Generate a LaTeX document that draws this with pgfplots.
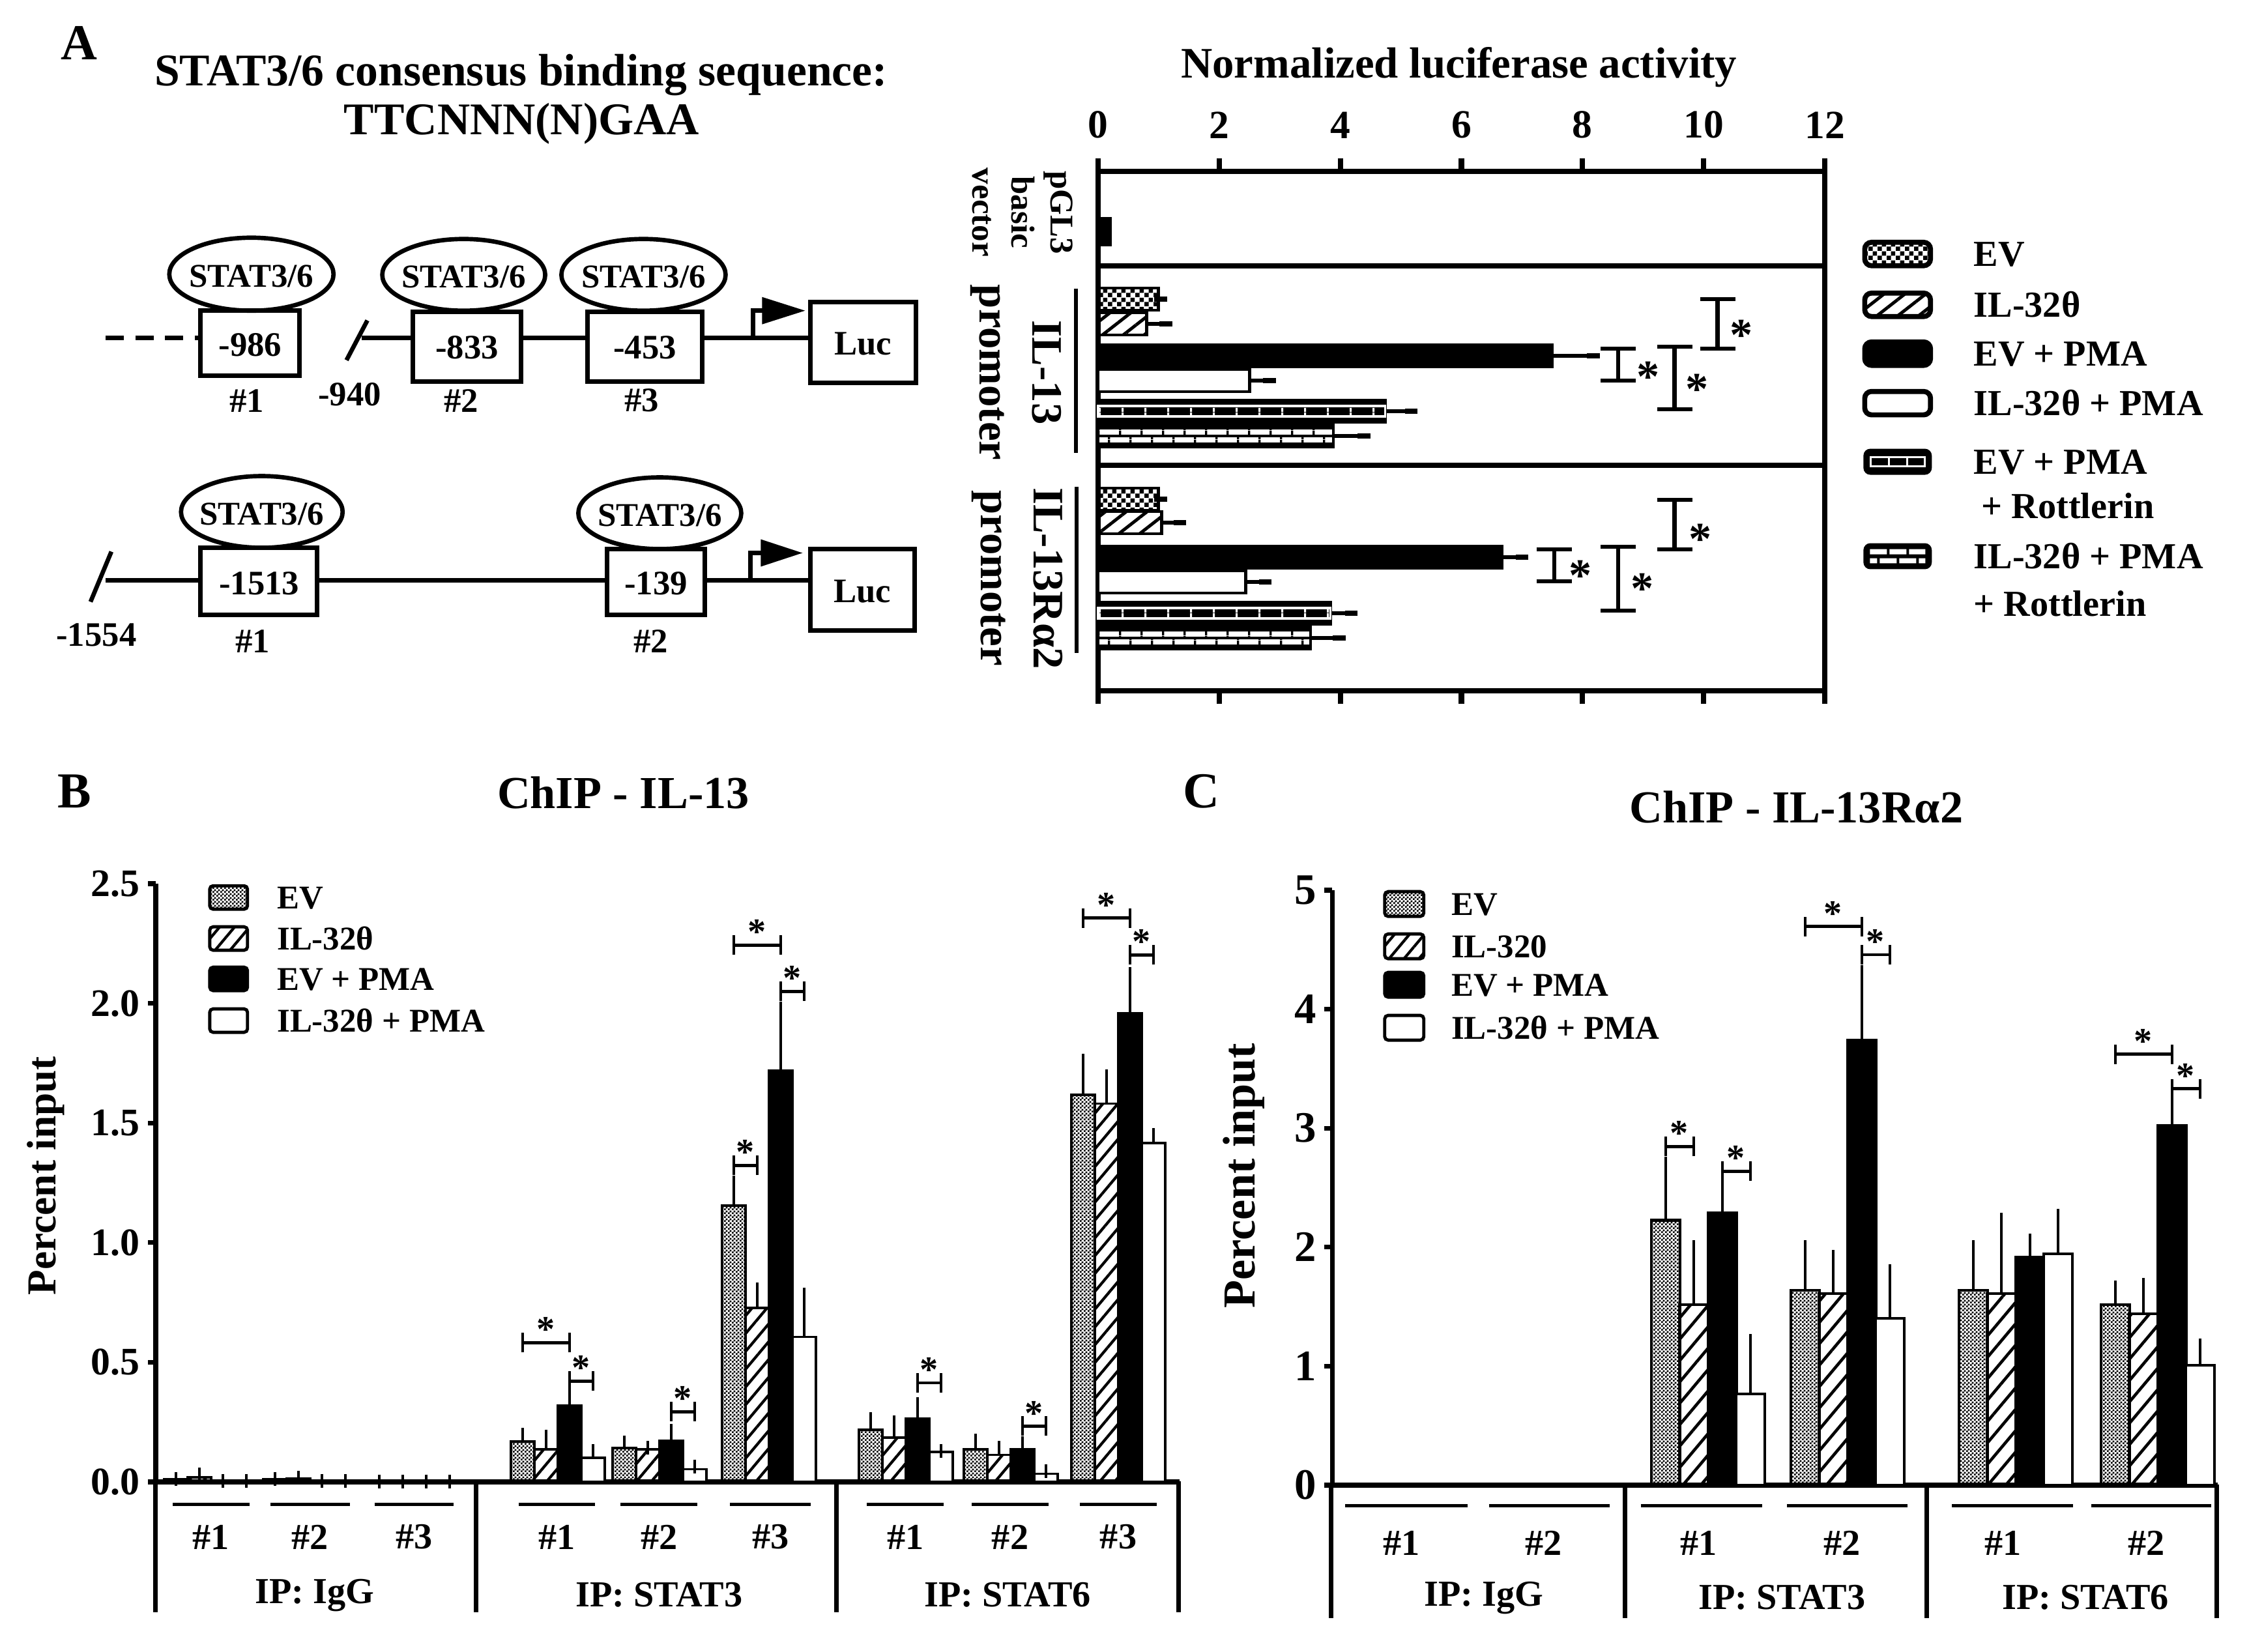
\documentclass[border=0pt]{standalone}
\usepackage{fontspec}
\setmainfont{Liberation Serif}
\usepackage{pgfplots}
\pgfplotsset{compat=1.18}
\usetikzlibrary{patterns,patterns.meta}

\newcommand{\fs}[1]{\fontsize{#1}{#1}\selectfont\bfseries}

\pgfdeclarepatternformonly{checkA}{\pgfpointorigin}{\pgfqpoint{4pt}{4pt}}{\pgfqpoint{4pt}{4pt}}{%
  \pgfpathrectangle{\pgfpointorigin}{\pgfqpoint{2pt}{2pt}}%
  \pgfpathrectangle{\pgfqpoint{2pt}{2pt}}{\pgfqpoint{2pt}{2pt}}%
  \pgfusepath{fill}}
\pgfdeclarepatternformonly{checkB}{\pgfpointorigin}{\pgfqpoint{1.6pt}{1.6pt}}{\pgfqpoint{1.6pt}{1.6pt}}{%
  \pgfpathrectangle{\pgfpointorigin}{\pgfqpoint{0.8pt}{0.8pt}}%
  \pgfpathrectangle{\pgfqpoint{0.8pt}{0.8pt}}{\pgfqpoint{0.8pt}{0.8pt}}%
  \pgfusepath{fill}}
\pgfdeclarepatternformonly{vlA}{\pgfpointorigin}{\pgfqpoint{9.4pt}{2pt}}{\pgfqpoint{9.4pt}{2pt}}{%
  \pgfpathrectangle{\pgfpointorigin}{\pgfqpoint{1pt}{2pt}}\pgfusepath{fill}}
\pgfdeclarepatternformonly{vlB}{\pgfpointorigin}{\pgfqpoint{9.4pt}{2pt}}{\pgfqpoint{9.4pt}{2pt}}{%
  \pgfpathrectangle{\pgfqpoint{4.7pt}{0pt}}{\pgfqpoint{1pt}{2pt}}\pgfusepath{fill}}
\pgfdeclarepatternformonly{vlW}{\pgfpointorigin}{\pgfqpoint{10pt}{2pt}}{\pgfqpoint{10pt}{2pt}}{%
  \pgfpathrectangle{\pgfpointorigin}{\pgfqpoint{0.9pt}{2pt}}\pgfusepath{fill}}

\pgfplotsset{
  barA/.style={xbar, bar shift=0pt, bar width=34, draw=black, line width=1.4pt,
    error bars/x dir=plus, error bars/x explicit,
    error bars/error bar style={line width=1.8pt, black},
    error bars/error mark options={line width=2.4pt, mark size=2.8pt, black}},
  barB/.style={ybar, bar shift=0pt, bar width=36, draw=black, line width=1.1pt,
    error bars/y dir=plus, error bars/y explicit,
    error bars/error bar style={line width=1.3pt, black},
    error bars/error mark options={line width=1.3pt, mark size=3pt, black}},
  barC/.style={ybar, bar shift=0pt, bar width=43.5, draw=black, line width=1.2pt,
    error bars/y dir=plus, error bars/y explicit,
    error bars/error bar style={line width=1.4pt, black},
    error bars/error mark options={line width=1.4pt, mark size=4.3pt, black}},
}

% horizontal significance bracket: x1, x2, y, star-x
\newcommand{\hbr}[4]{%
  \draw[line width=1.4pt] (axis cs:#1,#3) -- (axis cs:#2,#3);
  \draw[line width=1.4pt] ([yshift=-0.15cm]axis cs:#1,#3) -- ([yshift=0.15cm]axis cs:#1,#3);
  \draw[line width=1.4pt] ([yshift=-0.15cm]axis cs:#2,#3) -- ([yshift=0.15cm]axis cs:#2,#3);
  \node[font=\fs{16}] at ([yshift=0.2cm]axis cs:#4,#3) {*};
}
% vertical significance bracket: x, y1, y2, star-x, star-y
\newcommand{\vbr}[5]{%
  \draw[line width=1.8pt] (axis cs:#1,#2) -- (axis cs:#1,#3);
  \draw[line width=1.8pt] ([xshift=-0.27cm]axis cs:#1,#2) -- ([xshift=0.27cm]axis cs:#1,#2);
  \draw[line width=1.8pt] ([xshift=-0.27cm]axis cs:#1,#3) -- ([xshift=0.27cm]axis cs:#1,#3);
  \node[font=\fs{20}] at ([yshift=-0.14cm]axis cs:#4,#5) {*};
}

\begin{document}
\begin{tikzpicture}
\path[use as bounding box] (0,0) rectangle (34.51cm,-25.35cm);

% ================= Panel A (bar chart) =================
\begin{axis}[
  at={(16.85cm,-2.63cm)}, anchor=north west, scale only axis,
  width=11.15cm, height=7.97cm,
  xmin=0, xmax=12, ymin=263, ymax=1060, y dir=reverse,
  xtick={0,2,...,12}, ytick=\empty,
  xticklabel pos=upper, tick align=outside,
  major tick length=0.2cm,
  tick style={line width=2.3pt, black},
  axis line style={line width=2.3pt},
  tick label style={font=\fs{17.5}},
  x tick label style={yshift=0.18cm},
  /pgf/number format/assume math mode=true,
  clip=false,
]
% pGL3 basic vector
\addplot[xbar, bar shift=0pt, bar width=6, fill=black, draw=black, line width=1.2pt]
  coordinates {(0.2,338) (0.2,345) (0.2,352) (0.2,359) (0.2,366) (0.2,373)};
% EV
\addplot[barA, pattern=checkA] coordinates {(1.0,459) +- (0.03,0) (1.0,766) +- (0.03,0)};
% IL-32theta
\addplot[barA, pattern={Lines[angle=38,distance=5.6pt,line width=1.4pt]}]
  coordinates {(0.8,497) +- (0.32,0) (1.05,802) +- (0.30,0)};
% EV + PMA
\addplot[barA, fill=black] coordinates {(7.5,546) +- (0.68,0) (6.67,855) +- (0.33,0)};
% IL-32theta + PMA
\addplot[barA, fill=white] coordinates {(2.5,584) +- (0.33,0) (2.44,893) +- (0.32,0)};
% EV + PMA + Rottlerin
\addplot[barA, fill=black] coordinates {(4.74,631) +- (0.43,0) (3.84,941) +- (0.34,0)};
\addplot[xbar, bar shift=0pt, bar width=16, fill=black, draw=white, line width=0.9pt,
  postaction={pattern=vlW, pattern color=white}]
  coordinates {(4.74,631) (3.84,941)};
% IL-32theta + PMA + Rottlerin
\addplot[barA, fill=black] coordinates {(3.88,669) +- (0.51,0) (3.5,979) +- (0.48,0)};
\addplot[xbar, bar shift=0pt, bar width=11, fill=white, draw=black, line width=0.9pt,
  postaction={pattern=vlA}] coordinates {(3.88,663) (3.5,973)};
\addplot[xbar, bar shift=0pt, bar width=11, fill=white, draw=black, line width=0.9pt,
  postaction={pattern=vlB}] coordinates {(3.88,675) (3.5,985)};

\draw[line width=2.3pt] (axis cs:0,408) -- (axis cs:12,408);
\draw[line width=2.3pt] (axis cs:0,714) -- (axis cs:12,714);

\vbr{10.23}{459}{535}{10.62}{500}
\vbr{8.59}{535}{584}{9.08}{564}
\vbr{9.52}{532}{628}{9.89}{583}
\vbr{9.52}{767}{843}{9.94}{813}
\vbr{7.53}{843}{892}{7.96}{869}
\vbr{8.59}{839}{937}{8.99}{889}
\end{axis}

% ================= Panel B =================
\begin{axis}[
  at={(2.39cm,-13.56cm)}, anchor=north west, scale only axis,
  width=15.71cm, height=9.18cm,
  xmin=239, xmax=1810, ymin=0, ymax=2.5,
  axis lines=left, axis line style={-, line width=2pt},
  xtick=\empty, ytick={0,0.5,1,1.5,2,2.5},
  tick align=outside, major tick length=0.12cm,
  tick style={line width=2pt, black},
  y tick label style={font=\fs{17}, /pgf/number format/.cd, fixed, fixed zerofill, precision=1},
  /pgf/number format/assume math mode=true,
  clip=false,
]
\addplot[barB, pattern=checkB] coordinates {
  (270,0.010) +- (0,0.003) (422,0.010) +- (0,0.003) (582,0.002) +- (0,0)
  (802,0.168) +- (0,0.029) (958,0.142) +- (0,0.024) (1126,1.155) +- (0,0.096)
  (1336,0.217) +- (0,0.045) (1497,0.137) +- (0,0.036) (1662,1.617) +- (0,0.144)};
\addplot[barB, pattern={Lines[angle=50,distance=5pt,line width=1.2pt]}] coordinates {
  (306,0.020) +- (0,0.010) (458,0.015) +- (0,0.003) (618,0.002) +- (0,0)
  (838,0.137) +- (0,0.053) (994,0.137) +- (0,0.005) (1162,0.727) +- (0,0.077)
  (1372,0.185) +- (0,0.065) (1533,0.113) +- (0,0.029) (1698,1.581) +- (0,0.115)};
\addplot[barB, fill=black] coordinates {
  (342,0.005) +- (0,0) (494,0.005) +- (0,0) (654,0.002) +- (0,0)
  (874,0.318) +- (0,0.036) (1030,0.173) +- (0,0.041) (1198,1.718) +- (0,0.260)
  (1408,0.265) +- (0,0.060) (1569,0.137) +- (0,0.024) (1734,1.959) +- (0,0.163)};
\addplot[barB, fill=white] coordinates {
  (378,0.005) +- (0,0) (530,0.003) +- (0,0) (690,0.002) +- (0,0)
  (910,0.100) +- (0,0.030) (1066,0.053) +- (0,0.012) (1234,0.606) +- (0,0.178)
  (1444,0.125) +- (0,0.005) (1605,0.034) +- (0,0.012) (1770,1.417) +- (0,0.032)};

\hbr{802}{874}{0.582}{838}
\hbr{874}{910}{0.421}{892}
\hbr{1030}{1066}{0.294}{1048}
\hbr{1126}{1162}{1.323}{1144}
\hbr{1126}{1198}{2.243}{1162}
\hbr{1198}{1234}{2.050}{1216}
\hbr{1408}{1444}{0.414}{1426}
\hbr{1569}{1605}{0.233}{1587}
\hbr{1662}{1734}{2.356}{1698}
\hbr{1734}{1770}{2.202}{1752}
\end{axis}

% ================= Panel C =================
\begin{axis}[
  at={(20.44cm,-13.66cm)}, anchor=north west, scale only axis,
  width=13.59cm, height=9.13cm,
  xmin=2044, xmax=3403, ymin=0, ymax=5,
  axis lines=left, axis line style={-, line width=2pt},
  xtick=\empty, ytick={0,1,2,3,4,5},
  tick align=outside, major tick length=0.12cm,
  tick style={line width=2pt, black},
  y tick label style={font=\fs{19}},
  /pgf/number format/assume math mode=true,
  clip=false,
]
\addplot[barC, pattern=checkB] coordinates {
  (2094,0) (2313,0)
  (2556,2.226) +- (0,0.451) (2770,1.636) +- (0,0.339)
  (3028,1.636) +- (0,0.339) (3246,1.515) +- (0,0.121)};
\addplot[barC, pattern={Lines[angle=50,distance=6pt,line width=1.3pt]}] coordinates {
  (2137,0) (2356,0)
  (2599,1.515) +- (0,0.460) (2813,1.612) +- (0,0.281)
  (3071,1.612) +- (0,0.595) (3289,1.442) +- (0,0.218)};
\addplot[barC, fill=black] coordinates {
  (2181,0) (2400,0)
  (2643,2.290) +- (0,0.207) (2857,3.742) +- (0,0.546)
  (3115,1.917) +- (0,0.116) (3333,3.025) +- (0,0.150)};
\addplot[barC, fill=white] coordinates {
  (2224,0) (2443,0)
  (2686,0.765) +- (0,0.421) (2900,1.404) +- (0,0.368)
  (3158,1.946) +- (0,0.295) (3376,1.007) +- (0,0.145)};

\hbr{2556}{2599}{2.846}{2577}
\hbr{2643}{2686}{2.638}{2664}
\hbr{2770}{2857}{4.695}{2813}
\hbr{2857}{2900}{4.458}{2878}
\hbr{3246}{3333}{3.621}{3289}
\hbr{3333}{3376}{3.330}{3354}
\end{axis}

% ================= drawings in pixel coordinates =================
\begin{scope}[x=0.01cm, y=-0.01cm]
% ---- Panel A schematic
\node[font=\fs{22}] at (121,66) {A};
\node[font=\fs{19.8}] at (800,115) {STAT3/6 consensus binding sequence:};
\node[font=\fs{19.8}] at (801,190) {TTCNNN(N)GAA};
\begin{scope}[line width=1.9pt]
\draw[dash pattern=on 8pt off 5pt] (162,519) -- (308,519);
\draw (308,477) rectangle (460,577);
\draw (532,553) -- (564,492);
\draw (555,519) -- (634,519);
\draw (634,479) rectangle (800,586);
\draw (800,519) -- (902,519);
\draw (902,479) rectangle (1078,586);
\draw (1078,519) -- (1244,519);
\draw (1156,519) -- (1156,477) -- (1175,477);
\fill (1170,456) -- (1236,477) -- (1170,498) -- cycle;
\draw (1244,464) rectangle (1406,588);
\draw (386,421) ellipse [x radius=1.26cm, y radius=0.56cm];
\draw (712,422) ellipse [x radius=1.25cm, y radius=0.55cm];
\draw (988,422) ellipse [x radius=1.26cm, y radius=0.55cm];
% row 2
\draw (139,924) -- (171,847);
\draw (162,891) -- (308,891);
\draw (308,841) rectangle (487,944);
\draw (487,891) -- (932,891);
\draw (932,843) rectangle (1082,944);
\draw (1082,891) -- (1244,891);
\draw (1152,891) -- (1152,849) -- (1175,849);
\fill (1168,828) -- (1232,849) -- (1168,870) -- cycle;
\draw (1244,843) rectangle (1404,968);
\draw (402,786) ellipse [x radius=1.24cm, y radius=0.55cm];
\draw (1013,788) ellipse [x radius=1.25cm, y radius=0.55cm];
\end{scope}
\foreach \x/\y in {386/424, 712/425, 988/425, 402/789, 1013/791}
  \node[font=\fs{14.5}] at (\x,\y) {STAT3/6};
\node[font=\fs{15}] at (384,530) {-986};
\node[font=\fs{15}] at (717,534) {-833};
\node[font=\fs{15}] at (990,534) {-453};
\node[font=\fs{15}] at (1325,528) {Luc};
\node[font=\fs{15}] at (379,615) {\#1};
\node[font=\fs{15}] at (537,606) {-940};
\node[font=\fs{15}] at (708,615) {\#2};
\node[font=\fs{15}] at (985,615) {\#3};
\node[font=\fs{15}] at (398,896) {-1513};
\node[font=\fs{15}] at (1007,896) {-139};
\node[font=\fs{15}] at (1324,908) {Luc};
\node[font=\fs{15}] at (148,975) {-1554};
\node[font=\fs{15}] at (388,985) {\#1};
\node[font=\fs{15}] at (999,985) {\#2};

% ---- Panel A chart labels
\node[font=\fs{19}] at (2240,103) {Normalized luciferase activity};
\node[rotate=-90, align=center, font=\fontsize{14.5}{17}\selectfont\bfseries] at (1570,326) {pGL3\\basic\\vector};
\node[rotate=-90, align=center, font=\fontsize{19}{23}\selectfont\bfseries] at (1560,572) {IL-13\\promoter};
\node[rotate=-90, align=center, font=\fontsize{19}{23}\selectfont\bfseries] at (1562,888) {IL-13Rα2\\promoter};
\draw[line width=1.8pt] (1652,443) -- (1652,695);
\draw[line width=1.8pt] (1653,747) -- (1653,1003);

% ---- Panel A legend
\begin{scope}[line width=2.2pt]
\draw[rounded corners=3pt, pattern=checkA] (2863,372) rectangle (2964,408);
\draw[rounded corners=3pt, pattern={Lines[angle=38,distance=5.6pt,line width=1.4pt]}] (2863,450) rectangle (2964,486);
\draw[rounded corners=3pt, fill=black] (2863,525) rectangle (2964,561);
\draw[rounded corners=3pt, fill=white] (2863,601) rectangle (2964,637);
\fill[rounded corners=3pt] (2861,689) rectangle (2966,729);
\draw[white, line width=0.9pt] (2872,702) rectangle (2955,716);
\draw[white, line width=0.9pt] (2900,702) -- (2900,716) (2928,702) -- (2928,716);
\fill[rounded corners=3pt] (2861,834) rectangle (2966,874);
\fill[white] (2871,843) rectangle (2897,851) (2901,843) rectangle (2927,851) (2931,843) rectangle (2956,851);
\fill[white] (2871,857) rectangle (2882,865) (2886,857) rectangle (2912,865) (2916,857) rectangle (2942,865) (2946,857) rectangle (2956,865);
\end{scope}
\node[anchor=base west, font=\fs{16}] at (3018,409) {EV};
\node[anchor=base west, font=\fs{16}] at (3018,487) {IL-32θ};
\node[anchor=base west, font=\fs{16}] at (3018,562) {EV + PMA};
\node[anchor=base west, font=\fs{16}] at (3018,638) {IL-32θ + PMA};
\node[anchor=base west, font=\fs{16}] at (3018,728) {EV + PMA};
\node[anchor=base west, font=\fs{16}] at (3030,796) {+ Rottlerin};
\node[anchor=base west, font=\fs{16}] at (3018,873) {IL-32θ + PMA};
\node[anchor=base west, font=\fs{16}] at (3018,946) {+ Rottlerin};

% ---- Panel B frame, labels, legend
\node[font=\fs{22}] at (114,1215) {B};
\node[font=\fs{20}] at (957,1217) {ChIP - IL-13};
\node[font=\fs{18}, rotate=90] at (70,1805) {Percent input};
\foreach \x in {239,731,1284,1810} \draw[line width=2pt] (\x,2274) -- (\x,2475);
\foreach \a/\b in {265/383, 415/537, 575/696, 796/914, 953/1071, 1121/1245, 1331/1449, 1492/1610, 1658/1776}
  \draw[line width=1.6pt] (\a,2310) -- (\b,2310);
\foreach \x/\t in {324/1, 476/2, 636/3, 855/1, 1012/2, 1183/3, 1390/1, 1551/2, 1717/3}
  \node[font=\fs{16}] at (\x,2360) {\#\t};
\node[font=\fs{16}] at (483,2449) {IP: IgG};
\node[font=\fs{16}] at (1012,2449) {IP: STAT3};
\node[font=\fs{16}] at (1547,2449) {IP: STAT6};
\begin{scope}[line width=1.4pt]
\draw[rounded corners=1.5pt, pattern=checkB] (322,1360) rectangle (380,1396);
\draw[rounded corners=1.5pt, pattern={Lines[angle=50,distance=5pt,line width=1.2pt]}] (322,1423) rectangle (380,1459);
\draw[rounded corners=1.5pt, fill=black] (322,1485) rectangle (380,1521);
\draw[rounded corners=1.5pt, fill=white] (322,1549) rectangle (380,1585);
\end{scope}
\node[anchor=base west, font=\fs{14.5}] at (413,1395) {EV};
\node[anchor=base west, font=\fs{14.5}] at (413,1458) {IL-32θ};
\node[anchor=base west, font=\fs{14.5}] at (413,1520) {EV + PMA};
\node[anchor=base west, font=\fs{14.5}] at (413,1584) {IL-32θ + PMA};

% ---- Panel C frame, labels, legend
\node[font=\fs{22}] at (1844,1215) {C};
\node[font=\fs{20}] at (2758,1239) {ChIP - IL-13Rα2};
\node[font=\fs{20}, rotate=90] at (1910,1805) {Percent input};
\foreach \x in {2044,2495,2958,3403} \draw[line width=2pt] (\x,2279) -- (\x,2484);
\foreach \a/\b in {2065/2253, 2286/2471, 2519/2706, 2744/2929, 2997/3183, 3211/3395}
  \draw[line width=1.6pt] (\a,2312) -- (\b,2312);
\foreach \x/\t in {2152/1, 2370/2, 2608/1, 2828/2, 3075/1, 3295/2}
  \node[font=\fs{16}] at (\x,2369) {\#\t};
\node[font=\fs{16}] at (2278,2453) {IP: IgG};
\node[font=\fs{16}] at (2736,2453) {IP: STAT3};
\node[font=\fs{16}] at (3202,2453) {IP: STAT6};
\begin{scope}[line width=1.4pt]
\draw[rounded corners=1.5pt, pattern=checkB] (2126,1369) rectangle (2186,1407);
\draw[rounded corners=1.5pt, pattern={Lines[angle=50,distance=5pt,line width=1.2pt]}] (2126,1434) rectangle (2186,1472);
\draw[rounded corners=1.5pt, fill=black] (2126,1493) rectangle (2186,1531);
\draw[rounded corners=1.5pt, fill=white] (2126,1559) rectangle (2186,1597);
\end{scope}
\node[anchor=base west, font=\fs{14.5}] at (2216,1405) {EV};
\node[anchor=base west, font=\fs{14.5}] at (2216,1470) {IL-320};
\node[anchor=base west, font=\fs{14.5}] at (2216,1529) {EV + PMA};
\node[anchor=base west, font=\fs{14.5}] at (2216,1595) {IL-32θ + PMA};
\end{scope}
\end{tikzpicture}
\end{document}
